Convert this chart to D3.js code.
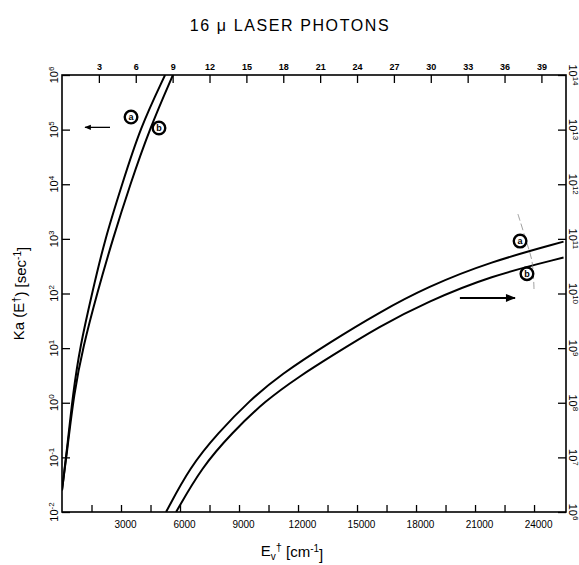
<!DOCTYPE html>
<html>
<head>
<meta charset="utf-8">
<script src="https://cdn.jsdelivr.net/npm/d3@7"></script>
<style>
  html, body { margin: 0; padding: 0; background: #fff; }
  svg { display: block; font-family: 'Liberation Sans', Arial, sans-serif; }
</style>
</head>
<body>
<svg id="chart" width="579" height="565"></svg>
<script>
'use strict';

// energies in cm^-1, rates in sec^-1
const energyLeftA = [0, 250, 560, 915, 1525, 2190, 3050, 3970, 5240];
const rateLeftA = [0.025, 0.135, 1.5, 10.5, 100, 1020, 9800, 1.07e5, 1.0e6];
const energyLeftB = [0, 260, 610, 1070, 1780, 2590, 3460, 4470, 5640];
const rateLeftB = [0.025, 0.13, 1.5, 10.5, 100, 1020, 9800, 1.07e5, 1.0e6];

const energyRightA = [5290, 6510, 7930, 9560, 11080, 13630, 16170, 18560, 21760, 25500];
const rateRightA = [1.0e6, 6.7e6, 2.8e7, 1.12e8, 3.22e8, 1.29e9, 4.6e9, 1.32e10, 3.8e10, 8.9e10];
const energyRightB = [5800, 7120, 8640, 10320, 12100, 13630, 16170, 18560, 21760, 25500];
const rateRightB = [1.0e6, 6.7e6, 2.8e7, 1.08e8, 3.09e8, 6.9e8, 2.54e9, 7.0e9, 2.09e10, 4.55e10];

// faint pencil stroke near the right-hand curves
const pencilEnergy = [23180, 23590, 23900, 24000];
const pencilRate = [2.85e11, 9.5e10, 3.8e10, 1.15e10];

const bottomTicks = [1500, 3000, 4500, 6000, 7500, 9000, 10500, 12000, 13500, 15000,
  16500, 18000, 19500, 21000, 22500, 24000];
const bottomLabels = ['3000', '6000', '9000', '12000', '15000', '18000', '21000', '24000'];
const topTicks = [3, 6, 9, 12, 15, 18, 21, 24, 27, 30, 33, 36, 39];
const leftExponents = [-2, -1, 0, 1, 2, 3, 4, 5, 6];
const rightExponents = [6, 7, 8, 9, 10, 11, 12, 13, 14];

const curveNames = ['a', 'b', 'a', 'b'];
const curveLabelSide = ['left', 'left', 'right', 'right'];
const curveLabelEnergy = [3510, 4930, 23290, 23640];
const curveLabelRate = [1.7e5, 1.07e5, 9.1e10, 2.3e10];

const arrowSide = ['left', 'right'];
const arrowFrom = [2440, 20230];
const arrowTo = [1170, 23030];
const arrowRate = [1.1e5, 8.3e9];

const margin = { top: 75, right: 13, bottom: 53, left: 62 };
const W = 579, H = 565;

const svg = d3.select('#chart');

const x = d3.scaleLinear().domain([0, 25625]).range([margin.left, W - margin.right]);
const xTop = d3.scaleLinear().domain([0, 41]).range([margin.left, W - margin.right]);
const yLeft = d3.scaleLog().domain([1e-2, 1e6]).range([H - margin.bottom, margin.top]);
const yRight = d3.scaleLog().domain([1e6, 1e14]).range([H - margin.bottom, margin.top]);
const yOf = (side) => (side === 'left' ? yLeft : yRight);

svg.append('defs').append('clipPath').attr('id', 'plot-clip')
  .append('rect')
  .attr('x', x.range()[0]).attr('y', yLeft.range()[1])
  .attr('width', x.range()[1] - x.range()[0])
  .attr('height', yLeft.range()[0] - yLeft.range()[1]);

svg.append('defs').append('marker')
  .attr('id', 'arrowhead')
  .attr('viewBox', '0 0 10 10')
  .attr('refX', 9).attr('refY', 5)
  .attr('markerWidth', 7).attr('markerHeight', 5)
  .attr('orient', 'auto')
  .append('path').attr('d', 'M0,1 L10,5 L0,9 Z').attr('fill', '#000');

// title
svg.append('text')
  .attr('x', 290).attr('y', 31)
  .attr('text-anchor', 'middle')
  .attr('font-size', 16)
  .attr('letter-spacing', 1.6)
  .text('16 \u03bc LASER  PHOTONS');

// axes
const axisStyle = (g) => g
  .call((g) => g.select('.domain').remove())
  .call((g) => g.selectAll('.tick line').attr('stroke', '#000').attr('stroke-width', 1.3));

svg.append('g')
  .attr('transform', `translate(0,${yLeft.range()[0]})`)
  .call(d3.axisBottom(x).tickValues(bottomTicks).tickSizeInner(-7).tickSizeOuter(0)
    .tickFormat((d) => (bottomLabels.includes(String(d)) ? String(d) : '')))
  .call(axisStyle)
  .call((g) => g.selectAll('.tick text').attr('font-size', 10).attr('y', 9).attr('dx', 4));

svg.append('g')
  .attr('transform', `translate(0,${yLeft.range()[1]})`)
  .call(d3.axisTop(xTop).tickValues(topTicks).tickSizeInner(-8).tickSizeOuter(0))
  .call(axisStyle)
  .call((g) => g.selectAll('.tick text').attr('font-size', 9).attr('font-weight', 'bold').attr('y', -5));

svg.append('g')
  .attr('transform', `translate(${x.range()[0]},0)`)
  .call(d3.axisLeft(yLeft).tickValues(leftExponents.map((e) => Math.pow(10, e)))
    .tickSizeInner(-8).tickSizeOuter(0).tickFormat(''))
  .call(axisStyle);

svg.append('g')
  .attr('transform', `translate(${x.range()[1]},0)`)
  .call(d3.axisRight(yRight).tickValues(rightExponents.map((e) => Math.pow(10, e)))
    .tickSizeInner(-8).tickSizeOuter(0).tickFormat(''))
  .call(axisStyle);

// power-of-ten labels, rotated like the original
function powerLabel(g, exp, px, py, angle) {
  const t = g.append('text')
    .attr('transform', `translate(${px},${py}) rotate(${angle})`)
    .attr('text-anchor', 'middle')
    .attr('dy', '0.35em')
    .attr('font-size', 11);
  t.append('tspan').text('10');
  t.append('tspan').attr('dy', '-0.45em').attr('font-size', 8).text(exp);
}

const leftLabels = svg.append('g');
leftExponents.forEach((e) => powerLabel(leftLabels, e, 54, yLeft(Math.pow(10, e)), -90));
const rightLabels = svg.append('g');
rightExponents.forEach((e) => powerLabel(rightLabels, e, 573, yRight(Math.pow(10, e)), 90));

// frame
svg.append('rect')
  .attr('x', x.range()[0]).attr('y', yLeft.range()[1])
  .attr('width', x.range()[1] - x.range()[0])
  .attr('height', yLeft.range()[0] - yLeft.range()[1])
  .attr('fill', 'none').attr('stroke', '#000').attr('stroke-width', 1.6);

// axis titles
const yTitle = svg.append('text')
  .attr('transform', `translate(24,${(yLeft.range()[0] + yLeft.range()[1]) / 2}) rotate(-90)`)
  .attr('text-anchor', 'middle')
  .attr('font-size', 15);
yTitle.append('tspan').text('Ka (E');
yTitle.append('tspan').attr('dy', '-0.4em').attr('font-size', 11).text('\u2020');
yTitle.append('tspan').attr('dy', '0.4em').text(') [sec');
yTitle.append('tspan').attr('dy', '-0.5em').attr('font-size', 10).text('-1');
yTitle.append('tspan').attr('dy', '0.5em').text(']');

const xTitle = svg.append('text')
  .attr('x', 292).attr('y', 556)
  .attr('text-anchor', 'middle')
  .attr('font-size', 15);
xTitle.append('tspan').text('E');
xTitle.append('tspan').attr('dy', '0.35em').attr('font-size', 10).text('v');
xTitle.append('tspan').attr('dy', '-0.8em').attr('font-size', 11).text('\u2020');
xTitle.append('tspan').attr('dy', '0.45em').text(' [cm');
xTitle.append('tspan').attr('dy', '-0.5em').attr('font-size', 10).text('-1');
xTitle.append('tspan').attr('dy', '0.5em').text(']');

// curves
const curves = [
  { side: 'left', energy: energyLeftA, rate: rateLeftA },
  { side: 'left', energy: energyLeftB, rate: rateLeftB },
  { side: 'right', energy: energyRightA, rate: rateRightA },
  { side: 'right', energy: energyRightB, rate: rateRightB },
];

const plot = svg.append('g').attr('clip-path', 'url(#plot-clip)');

curves.forEach((c) => {
  const y = yOf(c.side);
  const line = d3.line()
    .x((d, i) => x(c.energy[i]))
    .y((d, i) => y(c.rate[i]))
    .curve(d3.curveBasis);
  plot.append('path')
    .attr('d', line(c.energy))
    .attr('fill', 'none')
    .attr('stroke', '#000')
    .attr('stroke-width', 2);
});

plot.append('path')
  .attr('d', d3.line()
    .x((d, i) => x(pencilEnergy[i]))
    .y((d, i) => yRight(pencilRate[i]))
    .curve(d3.curveCatmullRom)(pencilEnergy))
  .attr('fill', 'none')
  .attr('stroke', '#777')
  .attr('stroke-width', 0.7)
  .attr('stroke-dasharray', '7,3');

// circled curve names
curveNames.forEach((name, i) => {
  const cx = x(curveLabelEnergy[i]);
  const cy = yOf(curveLabelSide[i])(curveLabelRate[i]);
  const g = svg.append('g').attr('transform', `translate(${cx},${cy})`);
  g.append('circle').attr('r', 6.3).attr('fill', '#fff')
    .attr('stroke', '#000').attr('stroke-width', 2.4);
  g.append('text')
    .attr('text-anchor', 'middle').attr('dy', '0.34em')
    .attr('font-size', 9).attr('font-weight', 'bold')
    .text(name);
});

// arrows showing which axis each pair belongs to
arrowSide.forEach((side, i) => {
  const y = yOf(side)(arrowRate[i]);
  svg.append('line')
    .attr('x1', x(arrowFrom[i])).attr('x2', x(arrowTo[i]))
    .attr('y1', y).attr('y2', y)
    .attr('stroke', '#000')
    .attr('stroke-width', side === 'left' ? 1.3 : 2)
    .attr('marker-end', 'url(#arrowhead)');
});
</script>
</body>
</html>
